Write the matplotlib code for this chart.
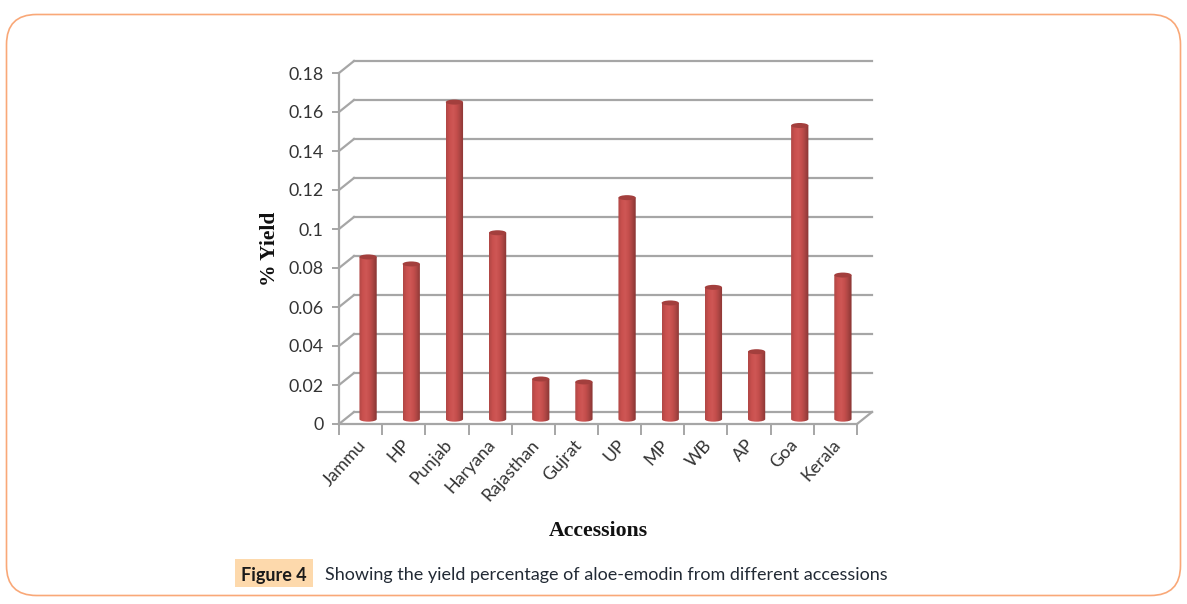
import matplotlib
matplotlib.use('Agg')
import matplotlib.pyplot as plt
import numpy as np
from matplotlib.colors import LinearSegmentedColormap
from matplotlib.patches import FancyBboxPatch, Ellipse, Rectangle
from matplotlib.path import Path
from matplotlib.patches import PathPatch

accessions = ['Jammu', 'HP', 'Punjab', 'Haryana', 'Rajasthan', 'Gujrat',
              'UP', 'MP', 'WB', 'AP', 'Goa', 'Kerala']
yields = [0.0826, 0.079, 0.162, 0.095, 0.020, 0.0185,
          0.113, 0.059, 0.067, 0.034, 0.150, 0.0733]
y_ticks = [0, 0.02, 0.04, 0.06, 0.08, 0.1, 0.12, 0.14, 0.16, 0.18]
y_tick_labels = ['0', '0.02', '0.04', '0.06', '0.08', '0.1', '0.12', '0.14', '0.16', '0.18']

W, H = 1187, 604
fig = plt.figure(figsize=(W / 100, H / 100), dpi=100, facecolor='white')

# fondo en pixeles para el marco y el pie de figura
bg = fig.add_axes([0, 0, 1, 1])
bg.set_xlim(0, W)
bg.set_ylim(H, 0)
bg.axis('off')
bg.add_patch(FancyBboxPatch((6.5, 14.5), 1174, 581, boxstyle='round,pad=0,rounding_size=30',
                            fc='white', ec='#f9a878', lw=1.2))
bg.add_patch(Rectangle((235, 559), 78, 28, fc='#fdd9ac', ec='none'))
bg.text(274, 575, 'Figure 4', fontsize=13, fontweight='bold', family='Lato',
        color='#1a1a1a', ha='center', va='center')
bg.text(325, 575, 'Showing the yield percentage of aloe-emodin from different accessions',
        fontsize=12.97, family='Lato', color='#222a35', ha='left', va='center')

# plano frontal del grafico
x0, x1, ytop, ybot = 339, 857, 73, 424
ax = fig.add_axes([x0 / W, 1 - ybot / H, (x1 - x0) / W, (ybot - ytop) / H])
n = len(accessions)
ax.set_xlim(0, n)
ax.set_ylim(0, 0.18)
ax.patch.set_alpha(0)

dx = 15 / (x1 - x0) * n
dy = 12 / (ybot - ytop) * 0.18
grid = '#a6a6a6'

for t in y_ticks:
    ax.plot([0, dx], [t, t + dy], color=grid, lw=1.6, clip_on=False, zorder=1)
    ax.plot([dx, n + dx], [t + dy, t + dy], color=grid, lw=1.6, clip_on=False, zorder=1)
ax.plot([n, n + dx], [0, dy], color=grid, lw=1.6, clip_on=False, zorder=1)

for s in ['top', 'right']:
    ax.spines[s].set_visible(False)
for s in ['left', 'bottom']:
    ax.spines[s].set_color(grid)
    ax.spines[s].set_linewidth(1.6)

ax.set_yticks(y_ticks)
ax.set_yticklabels(y_tick_labels, fontsize=12.8, family='Lato', color='#333333')
ax.set_xticks(np.arange(n + 1))
ax.set_xticklabels([])
ax.tick_params(axis='y', length=5, width=1.4, color=grid, pad=6)
ax.tick_params(axis='x', length=8, width=1.4, color=grid)

# etiquetas giradas, ancladas al final del texto
for i, name in enumerate(accessions):
    ax.annotate(name, (i + 0.5, 0), xytext=(2, -13), textcoords='offset points',
                rotation=48, rotation_mode='anchor', ha='right', va='center',
                fontsize=12.8, family='Lato', color='#333333')

# barras cilindricas
cmap = LinearSegmentedColormap.from_list('cyl', ['#b04745', '#c9504e', '#cf5755', '#c44e4c',
                                                 '#a84442', '#873432'])
grad = np.linspace(0, 1, 64).reshape(1, -1)
bar_w = 0.40
cap_h = 5 / (ybot - ytop) * 0.18

for i, v in enumerate(yields):
    cx = i + 0.5 + dx / 2
    base = dy / 2 - 0.0006
    top = v + dy / 2
    left, right = cx - bar_w / 2, cx + bar_w / 2
    k = 0.5523
    rx, ry = bar_w / 2, cap_h / 2
    verts = [(left, top), (left, base),
             (left, base - k * ry), (cx - k * rx, base - ry), (cx, base - ry),
             (cx + k * rx, base - ry), (right, base - k * ry), (right, base),
             (right, top), (left, top)]
    codes = [Path.MOVETO, Path.LINETO, Path.CURVE4, Path.CURVE4, Path.CURVE4,
             Path.CURVE4, Path.CURVE4, Path.CURVE4, Path.LINETO, Path.CLOSEPOLY]
    body = PathPatch(Path(verts, codes), fc='none', ec='none', zorder=3)
    ax.add_patch(body)
    im = ax.imshow(grad, extent=[left, right, base - ry, top], cmap=cmap, aspect='auto', zorder=3)
    im.set_clip_path(body)
    ax.add_patch(Ellipse((cx, top), bar_w, cap_h, fc='#a33f3d', ec='none', zorder=4))

ax.set_xlim(0, n)
ax.set_ylim(0, 0.18)

bg.text(270, 248.5, '% Yield', rotation=90, fontsize=15.5, fontweight='bold',
        family='Liberation Serif', color='#111111', ha='center', va='center')
bg.text(598, 531, 'Accessions', fontsize=15.7, fontweight='bold',
        family='Liberation Serif', color='#111111', ha='center', va='center')

fig.savefig('out.png', dpi=100)
